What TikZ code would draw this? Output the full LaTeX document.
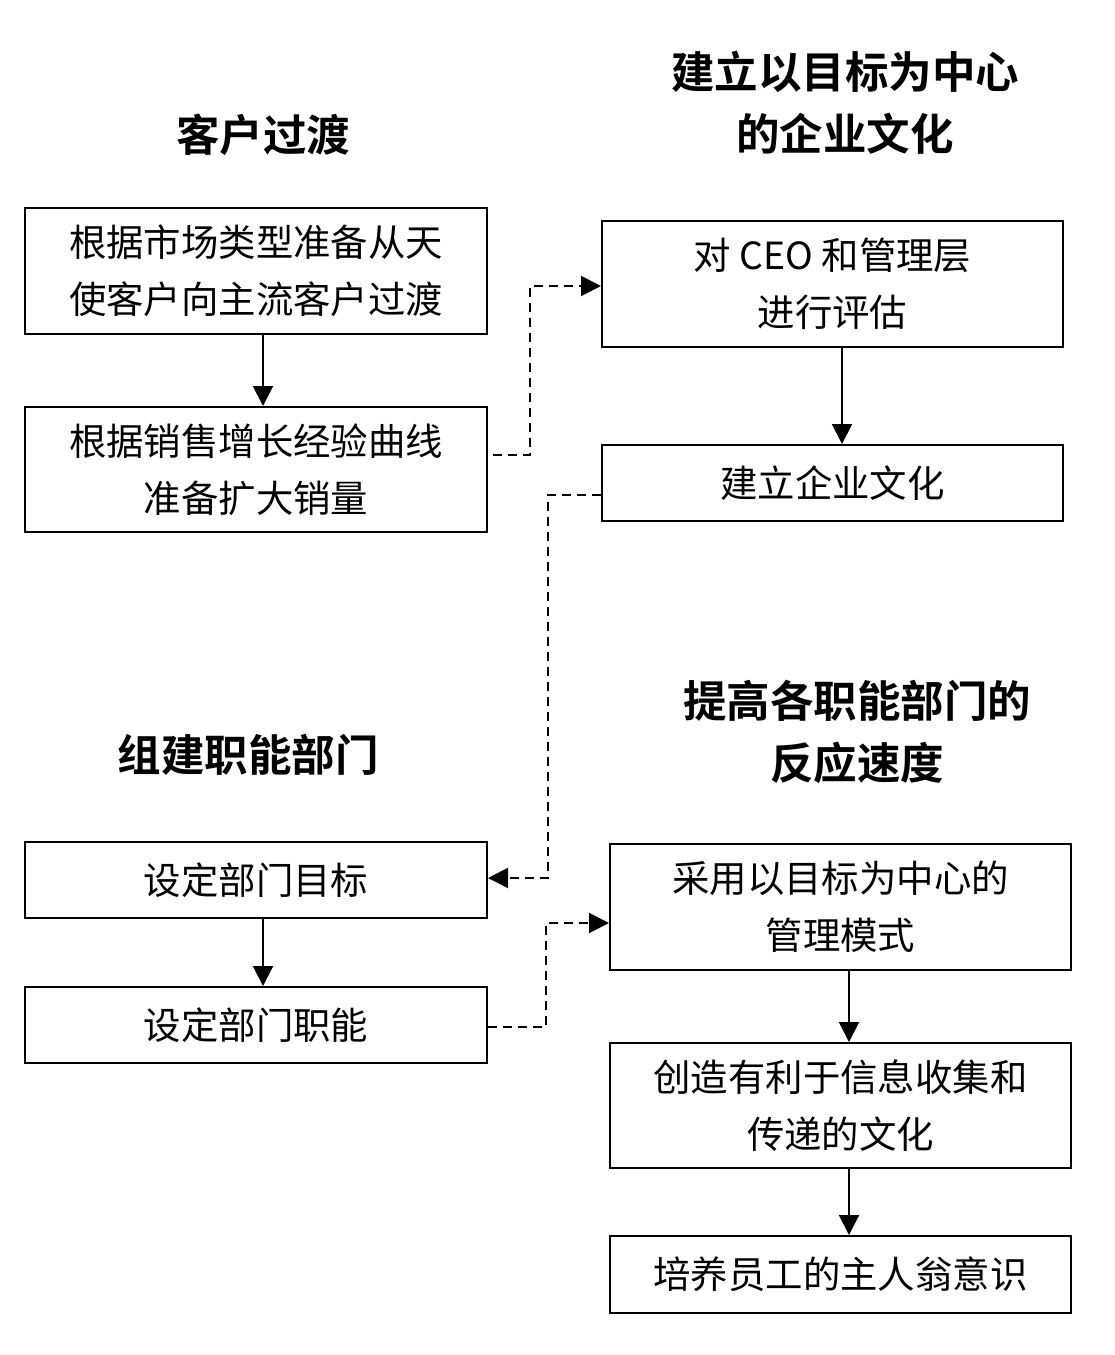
\documentclass[tikz,border=0pt]{standalone}
\usepackage{fontspec}
\newfontfamily\cjk{Noto Sans CJK SC}
\newfontfamily\cjkb{Noto Sans CJK SC Bold}
\usetikzlibrary{arrows.meta}
\begin{document}
\begin{tikzpicture}[x=1pt,y=-1pt,
  box/.style={draw,line width=2pt,inner sep=0pt,font=\cjk\fontsize{37.4}{57}\selectfont,align=center},
  ttl/.style={inner sep=0pt,font=\cjkb\fontsize{43.5}{62}\selectfont,align=center},
  arr/.style={line width=2pt,-{Triangle[length=20pt,width=20pt]}},
  darr/.style={line width=2pt,dash pattern=on 9pt off 6pt,-{Triangle[length=20pt,width=20pt]}}]
\useasboundingbox (0,0) rectangle (1114,1355);
% titles
\node[ttl] (t1) at (263,135) {客户过渡};
\node[ttl] (t2) at (845,103) {建立以目标为中心\\的企业文化};
\node[ttl] (t3) at (248,755) {组建职能部门};
\node[ttl] (t4) at (857,732) {提高各职能部门的\\反应速度};
% boxes
\node[box,minimum width=462pt,minimum height=126pt] (b1) at (256,271) {根据市场类型准备从天\\使客户向主流客户过渡};
\node[box,minimum width=462pt,minimum height=125pt] (b2) at (256,469.5) {根据销售增长经验曲线\\准备扩大销量};
\node[box,minimum width=461pt,minimum height=126pt] (b3) at (832.5,284) {对 CEO 和管理层\\进行评估};
\node[box,minimum width=461pt,minimum height=76pt] (b4) at (832.5,483) {建立企业文化};
\node[box,minimum width=462pt,minimum height=76pt] (b5) at (256,880) {设定部门目标};
\node[box,minimum width=462pt,minimum height=76pt] (b6) at (256,1025) {设定部门职能};
\node[box,minimum width=461pt,minimum height=126pt] (b7) at (840.5,907) {采用以目标为中心的\\管理模式};
\node[box,minimum width=461pt,minimum height=125pt] (b8) at (840.5,1105.5) {创造有利于信息收集和\\传递的文化};
\node[box,minimum width=461pt,minimum height=77pt] (b9) at (840.5,1274.5) {培养员工的主人翁意识};
% solid arrows
\draw[arr] (b1.south -| 263,0) -- (b2.north -| 263,0);
\draw[arr] (b3.south -| 842,0) -- (b4.north -| 842,0);
\draw[arr] (b5.south -| 263,0) -- (b6.north -| 263,0);
\draw[arr] (b7.south -| 849,0) -- (b8.north -| 849,0);
\draw[arr] (b8.south -| 849,0) -- (b9.north -| 849,0);
% dashed connectors
\coordinate (s2) at ([xshift=5pt]b2.east |- 0,455);
\draw[darr] (s2) -| (530,286) -- (b3.west |- 0,286);
\draw[darr] (b4.west |- 0,495) -| (548,878) -- (b5.east |- 0,878);
\draw[darr] (b6.east |- 0,1027) -| (546,923) -- (b7.west |- 0,923);
\end{tikzpicture}
\end{document}
